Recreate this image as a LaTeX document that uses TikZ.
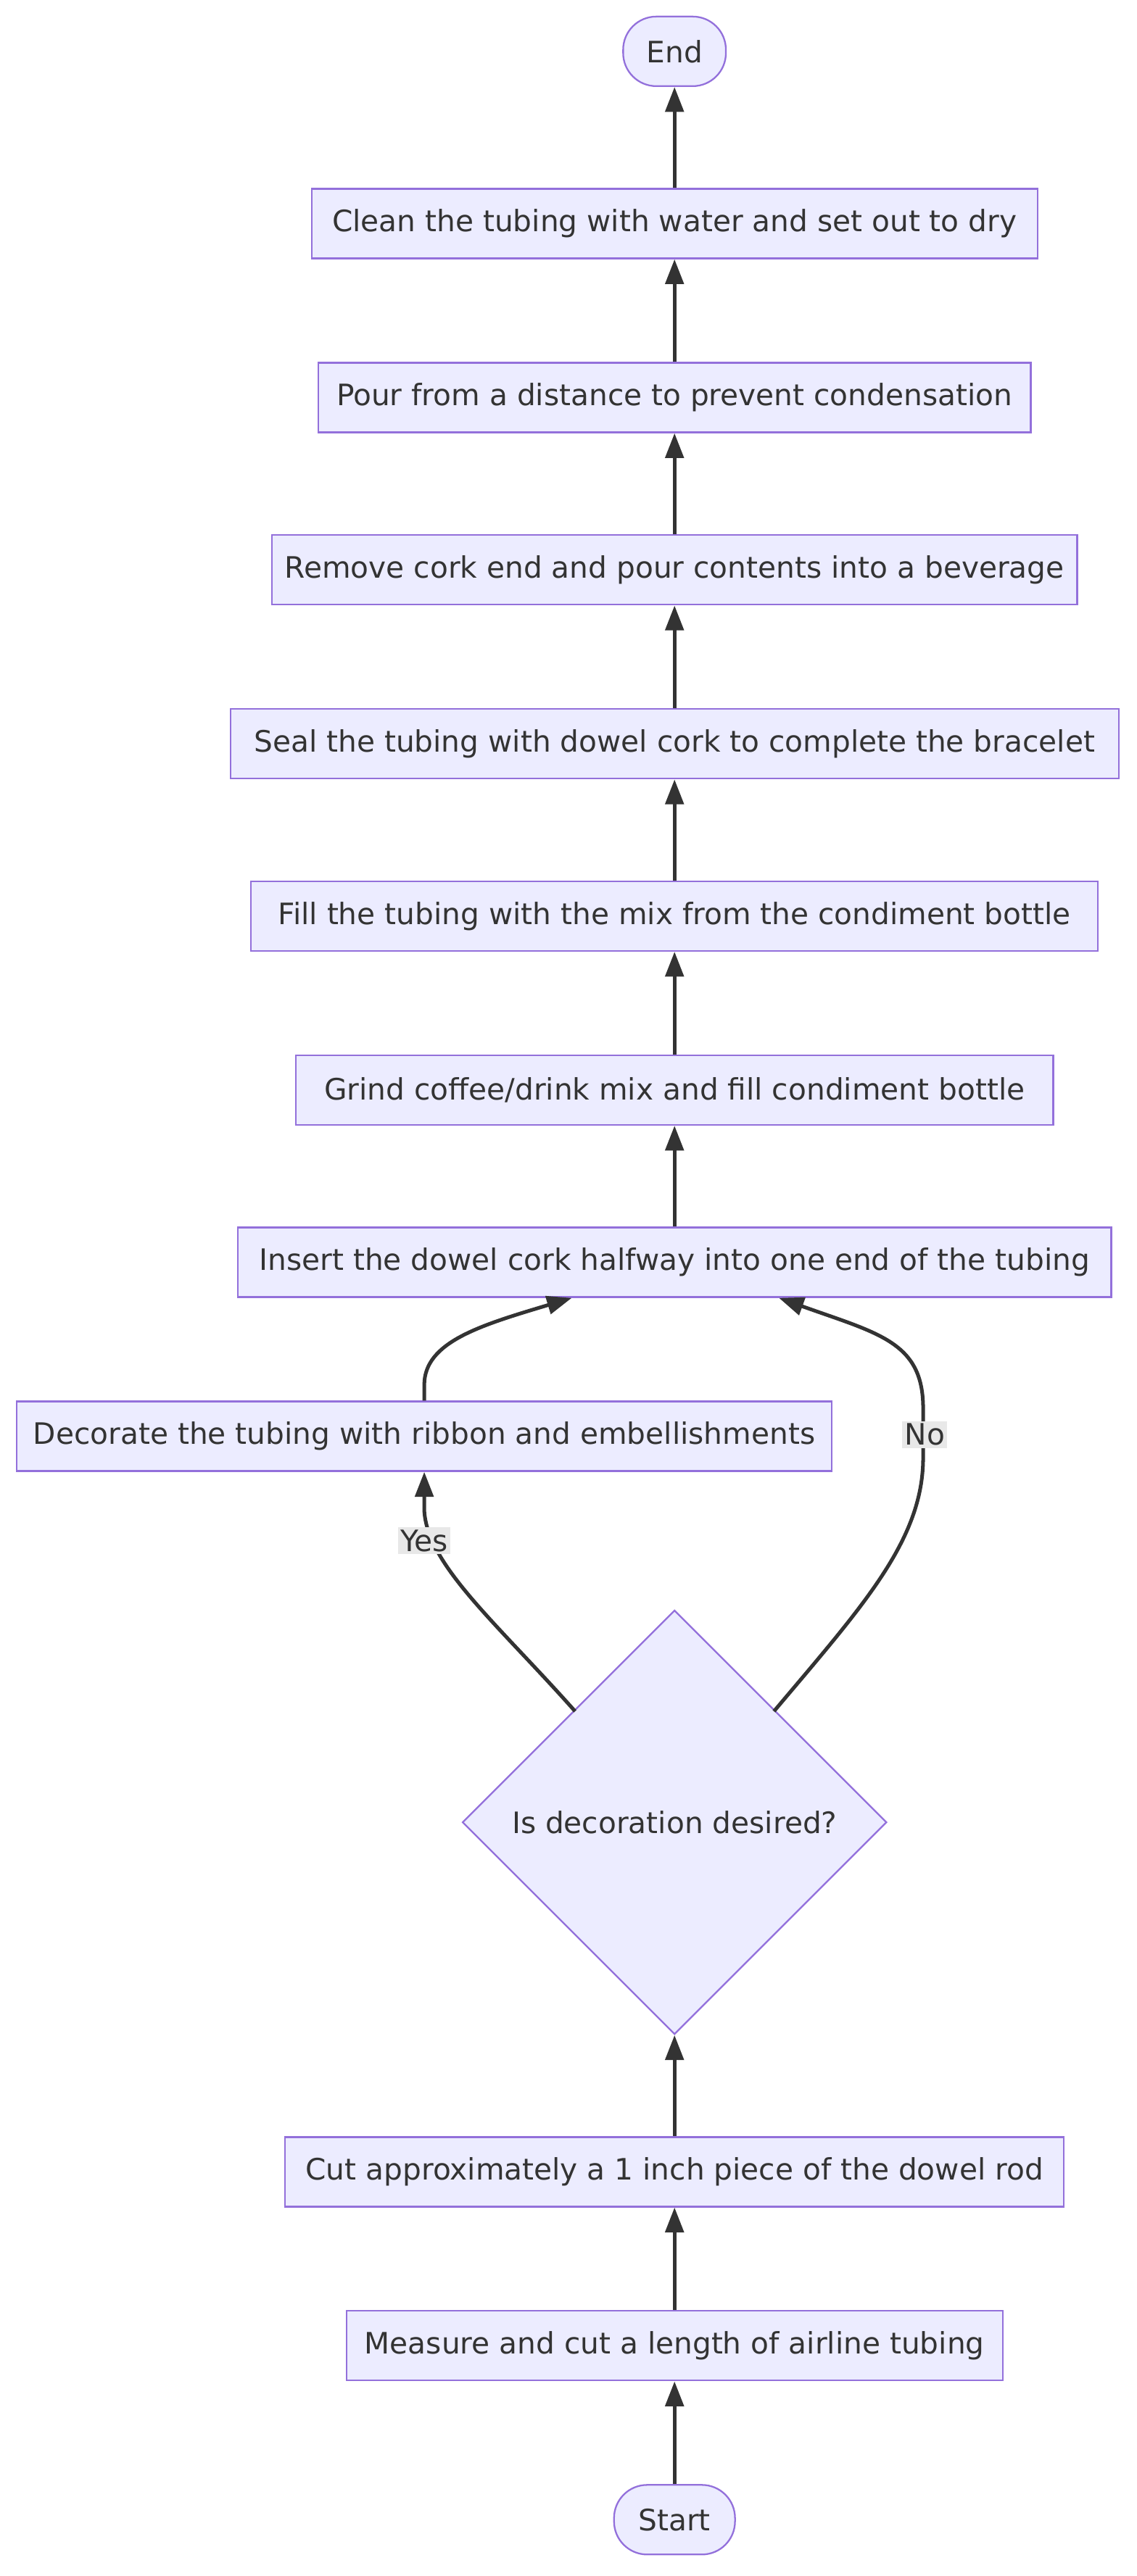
\documentclass[tikz,border=0pt]{standalone}
\usepackage{fontspec}
\setmainfont{DejaVu Sans}
\usetikzlibrary{arrows.meta,shapes.geometric}
\definecolor{nodefill}{HTML}{ECECFF}
\definecolor{nodeline}{HTML}{9370DB}
\definecolor{edgecol}{HTML}{333333}
\definecolor{lblbg}{HTML}{E8E8E8}
\tikzset{
  box/.style={draw=nodeline, fill=nodefill, line width=1pt, minimum height=42pt,
    inner sep=0pt, text=edgecol, font=\fontsize{17.8}{20}\selectfont},
  term/.style={box, rounded corners=20pt},
  decision/.style={box, diamond, minimum width=256pt, minimum height=256pt},
  flow/.style={draw=edgecol, line width=2.2pt, -{Triangle[length=15pt,width=11pt]}},
  lbl/.style={fill=lblbg, text=edgecol, inner sep=1.5pt, font=\fontsize{17.8}{20}\selectfont}
}
\begin{document}
\begin{tikzpicture}[x=1pt,y=1pt]
\useasboundingbox (0,0) rectangle (686,-1555);
\node[term, minimum width=62pt] (end) at (407,-31) {End};
\node[box, minimum width=438pt] (clean) at (407,-135) {Clean the tubing with water and set out to dry};
\node[box, minimum width=430pt] (pour) at (407,-240) {Pour from a distance to prevent condensation};
\node[box, minimum width=486pt] (remove) at (407,-344) {Remove cork end and pour contents into a beverage};
\node[box, minimum width=536pt] (seal) at (407,-449) {Seal the tubing with dowel cork to complete the bracelet};
\node[box, minimum width=511pt] (fill) at (407,-553) {Fill the tubing with the mix from the condiment bottle};
\node[box, minimum width=457pt] (grind) at (407,-658) {Grind coffee/drink mix and fill condiment bottle};
\node[box, minimum width=527pt] (insert) at (407,-762) {Insert the dowel cork halfway into one end of the tubing};
\node[box, minimum width=492pt] (decor) at (256,-867) {Decorate the tubing with ribbon and embellishments};
\node[decision] (ask) at (407,-1100) {Is decoration desired?};
\node[box, minimum width=470pt] (cut) at (407,-1311) {Cut approximately a 1 inch piece of the dowel rod};
\node[box, minimum width=396pt] (measure) at (407,-1416) {Measure and cut a length of airline tubing};
\node[term, minimum width=73pt] (start) at (407,-1521) {Start};

\coordinate (yesout) at (347,-1033);
\coordinate (noout) at (467,-1033);
\coordinate (insL) at ([xshift=-62pt]insert.south);
\coordinate (insR) at ([xshift=63pt]insert.south);

\draw[flow] (start) -- (measure);
\draw[flow] (measure) -- (cut);
\draw[flow] (cut) -- (ask);
\draw[flow] (yesout) .. controls (300,-980) and (258,-945) .. (256,-912) -- (decor.south);
\draw[flow] (noout) .. controls (520,-970) and (557,-930) .. (557,-880) -- (557,-850) .. controls (557,-810) and (530,-805) .. (insR);
\draw[flow] (decor.north) -- (256,-836) .. controls (256,-810) and (290,-800) .. (insL);
\draw[flow] (insert) -- (grind);
\draw[flow] (grind) -- (fill);
\draw[flow] (fill) -- (seal);
\draw[flow] (seal) -- (remove);
\draw[flow] (remove) -- (pour);
\draw[flow] (pour) -- (clean);
\draw[flow] (clean) -- (end);
\node[lbl] (yeslbl) at (256,-930) {Yes};
\node[lbl] (nolbl) at (558,-866) {No};
\end{tikzpicture}
\end{document}
